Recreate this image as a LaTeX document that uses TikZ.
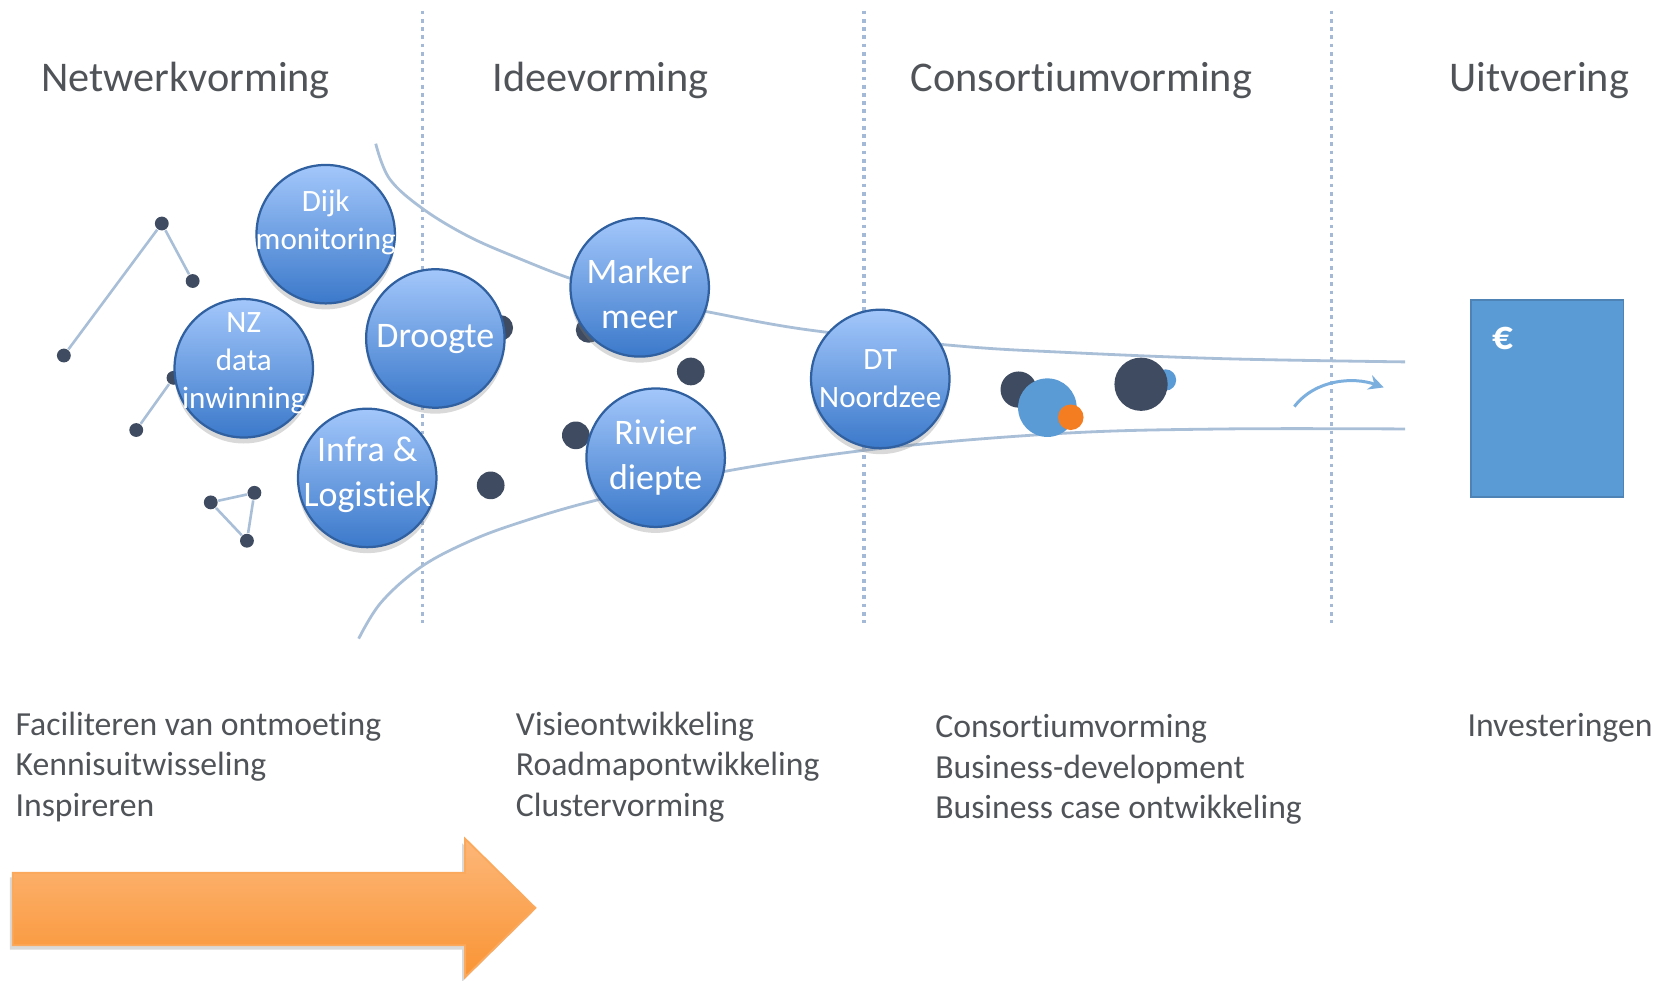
\documentclass[tikz,border=0pt]{standalone}
\usepackage{fontspec}
\setmainfont{Carlito}[Ligatures=NoCommon]
\usetikzlibrary{shadows,arrows.meta}
\definecolor{dotc}{HTML}{3E4B60}
\definecolor{linec}{HTML}{A9BFD8}
\definecolor{vlinec}{HTML}{A3B9D6}
\definecolor{txtc}{HTML}{505458}
\definecolor{ctop}{HTML}{A3C7FB}
\definecolor{cbot}{HTML}{3B79CA}
\definecolor{cbord}{HTML}{30609F}
\definecolor{midblue}{HTML}{5B9BD5}
\definecolor{otop}{HTML}{FDB779}
\definecolor{obot}{HTML}{F99434}
\definecolor{odot}{HTML}{F47D22}
\tikzset{
  bubble/.style={circle, minimum size=1.3cm, inner sep=0pt, draw=cbord, line width=0.6pt,
    top color=ctop, bottom color=cbot,
    drop shadow={opacity=0.3, shadow xshift=0pt, shadow yshift=-1.6pt}},
  btext/.style={text=white, align=center, inner sep=0pt},
  smalltxt/.style={font=\fontsize{8.3}{10.2}\selectfont},
  bigtxt/.style={font=\fontsize{9.6}{11.9}\selectfont},
  title/.style={anchor=base west, text=txtc, font=\fontsize{11.3}{13}\selectfont, inner sep=0pt},
  desc/.style={anchor=base west, text=txtc, align=left, font=\fontsize{9}{10.8}\selectfont, inner sep=0pt},
  netdot/.style={circle, fill=dotc, minimum size=0.13cm, inner sep=0pt},
  bigdot/.style={circle, fill=dotc, inner sep=0pt},
  netline/.style={draw=linec, line width=0.7pt},
  vline/.style={draw=vlinec, line width=1pt, dash pattern=on 1pt off 1.2pt},
  funnel/.style={draw=linec, line width=0.75pt}
}
\begin{document}
\begin{tikzpicture}[x=0.01cm,y=-0.01cm]
\useasboundingbox (0,0) rectangle (1568,921);
% titles
\node[title] (t1) at (38,86) {Netwerkvorming};
\node[title] (t2) at (462,86) {Ideevorming};
\node[title] (t3) at (855,86) {Consortiumvorming};
\node[title] (t4) at (1361,86) {Uitvoering};
% dotted separators
\coordinate (v1a) at (397,10); \coordinate (v1b) at (397,585);
\coordinate (v2a) at (812,10); \coordinate (v2b) at (812,585);
\coordinate (v3a) at (1251,10); \coordinate (v3b) at (1251,585);
\draw[vline] (v1a) -- (v1b);
\draw[vline] (v2a) -- (v2b);
\draw[vline] (v3a) -- (v3b);
% funnel
\draw[funnel] plot[smooth, tension=0.6] coordinates {(353,135) (366,168) (397,196) (440,222) (488,243) (540,263) (600,280) (665,293) (760,310) (900,325) (1000,331) (1150,337) (1320,340)};
\draw[funnel] plot[smooth, tension=0.6] coordinates {(337,600) (358,566) (395,533) (440,509) (488,491) (560,470) (680,443) (830,421) (1000,407) (1150,403) (1320,403)};
% small arrow
\coordinate (sa1) at (1216,382); \coordinate (sa2) at (1300,364);
\draw[draw=midblue!80, line width=0.8pt, -{Stealth[length=4pt,width=4pt]}] (sa1) .. controls (1236,356) and (1272,354) .. (sa2);
% network dots
\node[netdot] (n1) at (152,210) {};
\node[netdot] (n2) at (181,264) {};
\node[netdot] (n3) at (60,334) {};
\node[netdot] (n4) at (163,355) {};
\node[netdot] (n5) at (128,404) {};
\node[netdot] (n6) at (198,472) {};
\node[netdot] (n7) at (239,463) {};
\node[netdot] (n8) at (232,508) {};
\draw[netline] (n3) -- (n1) -- (n2);
\draw[netline] (n4) -- (n5);
\draw[netline] (n6) -- (n7) -- (n8) -- (n6);
% larger dots
\node[bigdot, minimum size=0.26cm] (d1) at (461,456) {};
\node[bigdot, minimum size=0.24cm] (d2) at (470,308) {};
\node[bigdot, minimum size=0.24cm] (d3) at (553,310) {};
\node[bigdot, minimum size=0.26cm] (d4) at (649,349) {};
\node[bigdot, minimum size=0.26cm] (d5) at (541,409) {};
% consortium dots
\node[bigdot, minimum size=0.34cm] (c1) at (957,366) {};
\node[circle, fill=midblue, inner sep=0pt, minimum size=0.55cm] (c2) at (984,383) {};
\node[circle, fill=odot, inner sep=0pt, minimum size=0.24cm] (c3) at (1006,392) {};
\node[circle, fill=midblue, inner sep=0pt, minimum size=0.2cm] (c4) at (1095,357) {};
\node[bigdot, minimum size=0.5cm] (c5) at (1072,361) {};
% bubbles
\node[bubble] (dijk) at (306,220) {};
\node[bubble] (nz) at (229,346) {};
\node[bubble] (droog) at (409,318) {};
\node[bubble] (infra) at (345,449) {};
\node[bubble] (marker) at (601,270) {};
\node[bubble] (rivier) at (616,430) {};
\node[bubble] (dt) at (827,356) {};
\node[btext, smalltxt] (dijkT) at (306,209) {Dijk\\monitoring};
\node[btext, smalltxt] (nzT) at (229,341) {NZ\\data\\inwinning};
\node[btext, bigtxt] (droogT) at (409,319) {Droogte};
\node[btext, bigtxt] (infraT) at (345,446) {Infra \&\\Logistiek};
\node[btext, bigtxt] (markerT) at (601,276) {Marker\\meer};
\node[btext, bigtxt] (rivierT) at (616,430) {Rivier\\diepte};
\node[btext, smalltxt] (dtT) at (827,356) {DT\\Noordzee};
% investment box
\node[draw=midblue!85!black, fill=midblue, minimum width=1.43cm, minimum height=1.85cm, inner sep=0pt] (box) at (1453.5,374.5) {};
\node[text=white, font=\fontsize{11}{12}\selectfont\bfseries, inner sep=0pt] (euro) at (1412,318) {€};
% descriptions
\node[desc] (b1) at (14,767) {Faciliteren van ontmoeting\\Kennisuitwisseling\\Inspireren};
\node[desc] (b2) at (484,767) {Visieontwikkeling\\Roadmapontwikkeling\\Clustervorming};
\node[desc] (b3) at (878,769) {Consortiumvorming\\Business-development\\Business case ontwikkeling};
\node[desc] (b4) at (1378,692) {Investeringen};
% orange arrow
\draw[draw=obot!80!white, line width=0.5pt, top color=otop, bottom color=obot,
  drop shadow={opacity=0.3, shadow xshift=-0.8pt, shadow yshift=-1.2pt}]
  (12,820) -- (437,820) -- (437,788) -- (503,853) -- (437,918) -- (437,888) -- (12,888) -- cycle;
\end{tikzpicture}
\end{document}
